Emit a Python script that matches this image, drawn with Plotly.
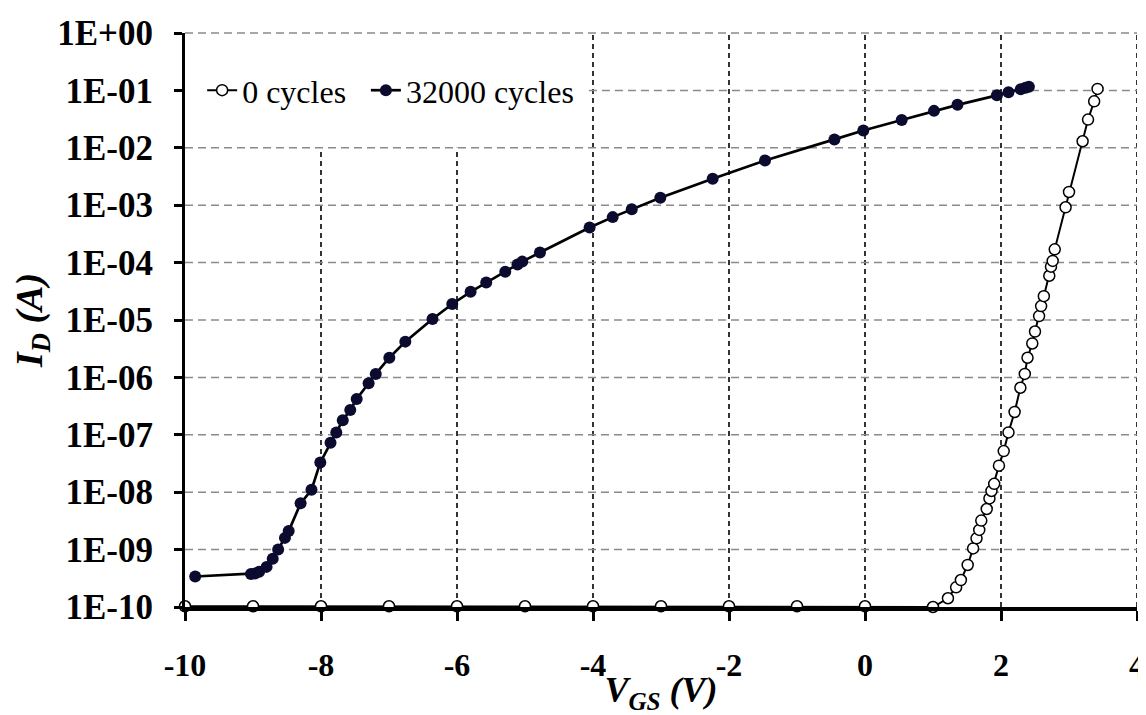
import math
import plotly.graph_objects as go

# 0 cycles
vgs_0 = [-10, -9, -8, -7, -6, -5, -4, -3, -2, -1, 0, 1.0, 1.22, 1.34, 1.41, 1.51, 1.59, 1.64, 1.68, 1.71,
         1.79, 1.83, 1.86, 1.90, 1.97, 2.04, 2.11, 2.20, 2.285, 2.35, 2.39, 2.46, 2.50, 2.56, 2.59,
         2.63, 2.71, 2.735, 2.76, 2.79, 2.95, 3.0, 3.20, 3.28, 3.37, 3.42]
id_0 = [1.03e-10] * 11 + [1.0e-10, 1.42e-10, 2.2e-10, 2.95e-10, 5.4e-10, 1.05e-9, 1.57e-9, 2.2e-9, 3.2e-9,
        5.1e-9, 7.8e-9, 1.05e-8, 1.4e-8, 2.9e-8, 5.2e-8, 1.1e-7, 2.5e-7, 6.6e-7, 1.15e-6, 2.2e-6, 3.9e-6,
        6.3e-6, 1.17e-5, 1.75e-5, 2.6e-5, 5.9e-5, 8.5e-5, 1.07e-4, 1.7e-4, 9.2e-4, 1.7e-3, 1.3e-2, 3.1e-2,
        6.45e-2, 1.06e-1]

# 32000 cycles
vgs_32k = [-9.85, -9.03, -8.97, -8.91, -8.80, -8.71, -8.63, -8.53, -8.475, -8.30, -8.14, -8.01, -7.86,
           -7.775, -7.68, -7.57, -7.475, -7.30, -7.195, -6.995, -6.76, -6.36, -6.07, -5.80, -5.57, -5.29,
           -5.11, -5.04, -4.78, -4.05, -3.71, -3.43, -3.01, -2.24, -1.47, -0.45, -0.025, 0.54, 1.015,
           1.36, 1.94, 2.11, 2.29, 2.36, 2.41]
id_32k = [3.4e-10, 3.75e-10, 3.85e-10, 4.1e-10, 5.0e-10, 6.9e-10, 1.0e-9, 1.6e-9, 2.1e-9, 6.4e-9, 1.1e-8,
          3.3e-8, 7.3e-8, 1.1e-7, 1.8e-7, 2.7e-7, 4.2e-7, 7.9e-7, 1.15e-6, 2.2e-6, 4.2e-6, 1.04e-5,
          1.9e-5, 3.1e-5, 4.5e-5, 6.9e-5, 9.3e-5, 1.04e-4, 1.5e-4, 4.1e-4, 6.2e-4, 8.5e-4, 1.35e-3,
          2.9e-3, 6.0e-3, 1.4e-2, 2.0e-2, 3.05e-2, 4.4e-2, 5.6e-2, 8.2e-2, 9.3e-2, 1.05e-1, 1.11e-1, 1.16e-1]

x_ticks = [-10, -8, -6, -4, -2, 0, 2, 4]
y_tickvals = [10.0 ** (-k) for k in range(0, 11)]
y_ticktext = ["1E+00"] + ["1E-%02d" % k for k in range(1, 11)]

X_RANGE = [-10, 4]
Y_LOG_RANGE = [-10, 0]
# legend box area (grid hidden there), in x data units and y decades
LEGEND_X_END = -4.06
LEGEND_Y_BOTTOM = 1e-2

serif = "Liberation Serif"


def ypaper(v):
    return (math.log10(v) - Y_LOG_RANGE[0]) / (Y_LOG_RANGE[1] - Y_LOG_RANGE[0])


fig = go.Figure()

# grid lines drawn as shapes (so the legend area can stay clear)
for xv in x_ticks:
    if xv == X_RANGE[0]:
        continue
    top = ypaper(LEGEND_Y_BOTTOM) if xv < LEGEND_X_END else 1.0
    fig.add_shape(type="line", xref="x", yref="paper", x0=xv, x1=xv, y0=0, y1=top,
                  line=dict(color="black", width=1.6, dash="5px,4px"), layer="below")
for yv in y_tickvals:
    yp = ypaper(yv)
    if yp <= 0:
        continue
    x_start = LEGEND_X_END if (ypaper(LEGEND_Y_BOTTOM) < yp < 0.999) else X_RANGE[0]
    fig.add_shape(type="line", xref="x", yref="paper", x0=x_start, x1=X_RANGE[1], y0=yp, y1=yp,
                  line=dict(color="#8a8a8a", width=1.5, dash="8px,5px"), layer="below")

fig.add_trace(go.Scatter(
    x=vgs_0, y=id_0, name="0 cycles", mode="lines+markers",
    line=dict(color="black", width=2),
    marker=dict(symbol="circle", size=11, color="white", line=dict(color="black", width=1.5)),
    cliponaxis=False, legend="legend",
))
fig.add_trace(go.Scatter(
    x=vgs_32k, y=id_32k, name="32000 cycles", mode="lines+markers",
    line=dict(color="black", width=2.7),
    marker=dict(symbol="circle", size=12, color="#0b0b30", line=dict(width=0)),
    cliponaxis=False, legend="legend2",
))

legend_style = dict(
    orientation="h", y=0.9, xanchor="left", yanchor="middle",
    bgcolor="rgba(0,0,0,0)", font=dict(family=serif, size=32, color="black"),
    itemwidth=30,
)

# page body has an 8px margin, so the figure is sized to fit the window
fig.update_layout(
    width=1138, height=707,
    margin=dict(l=177, r=9, t=25, b=108),
    plot_bgcolor="white", paper_bgcolor="white",
    font=dict(family=serif, color="black"),
    showlegend=True,
    legend=dict(x=0.018, **legend_style),
    legend2=dict(x=0.19, **legend_style),
)

fig.update_xaxes(
    range=X_RANGE, tickvals=x_ticks, ticktext=[str(v) for v in x_ticks],
    showline=True, linecolor="black", linewidth=3.5,
    ticks="outside", ticklen=10, tickwidth=2.5, tickcolor="black",
    tickfont=dict(family=serif, size=32, color="black", weight="bold"),
    ticklabelstandoff=17,
    showgrid=False, zeroline=False, automargin=False,
    title=dict(text="V<sub>GS</sub> (V)", standoff=18,
               font=dict(family=serif, size=36, color="black", weight="bold", style="italic")),
)
fig.update_yaxes(
    type="log", range=Y_LOG_RANGE, tickvals=y_tickvals, ticktext=y_ticktext,
    showline=True, linecolor="black", linewidth=3,
    ticks="outside", ticklen=8, tickwidth=2.5, tickcolor="black",
    tickfont=dict(family=serif, size=35, color="black", weight="bold"),
    ticklabelstandoff=14,
    showgrid=False, zeroline=False, automargin=False,
    title=dict(text="I<sub>D</sub> (A)", standoff=8,
               font=dict(family=serif, size=38, color="black", weight="bold", style="italic")),
)

fig.write_html("out.html")
